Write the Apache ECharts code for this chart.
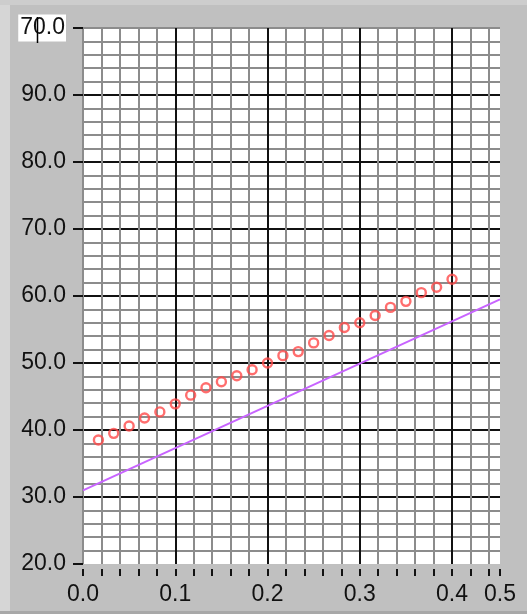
<!DOCTYPE html>
<html>
<head>
<meta charset="utf-8">
<script src="https://cdn.jsdelivr.net/npm/echarts@6/dist/echarts.min.js"></script>
<style>
html,body{margin:0;padding:0;background:#c0c0c0;}
#c{width:527px;height:614px;}
</style>
</head>
<body>
<div id="c"></div>
<script>
// ---- data ----
var pointX = [0.0167,0.0333,0.05,0.0667,0.0833,0.1,0.1167,0.1333,0.15,0.1667,0.1833,0.2,
              0.2167,0.2333,0.25,0.2667,0.2833,0.3,0.3167,0.3333,0.35,0.3667,0.3833,0.4];
var pointY = [38.5,39.5,40.6,41.8,42.7,43.9,45.2,46.3,47.2,48.1,49.0,50.0,
              51.1,51.7,53.0,54.1,55.3,56.0,57.1,58.3,59.2,60.5,61.3,62.5];
var lineX = [0, 0.452];
var lineY = [31.0, 59.5];
var yTickValues = [20,30,40,50,60,70,80,90,100];
var yTickLabels = ['20.0','30.0','40.0','50.0','60.0','70.0','80.0','90.0','70.0'];
var xMin = 0, xMax = 0.452, yMin = 20, yMax = 100;

var scatterData = pointX.map(function(x,i){return [x, pointY[i]];});
var lineData = lineX.map(function(x,i){return [x, lineY[i]];});

var FONT = 'Liberation Sans';
var chart = echarts.init(document.getElementById('c'), null, {renderer:'canvas'});
var option = {
  backgroundColor: '#c0c0c0',
  animation: false,
  grid: {left: 83, right: 27, top: 28, bottom: 50, show: true, backgroundColor: '#ffffff', borderWidth: 0},
  graphic: [
    {type:'rect', shape:{x:0,y:0,width:10,height:614}, style:{fill:'#d6d6d6'}, z:-10},
    {type:'rect', shape:{x:0,y:0,width:527,height:5}, style:{fill:'#cdcdcd'}, z:-10},
    {type:'rect', shape:{x:0,y:611,width:527,height:3}, style:{fill:'#a8a8a8'}, z:-10},
    {type:'line', shape:{x1:37.5,y1:17,x2:37.5,y2:43}, style:{stroke:'#000',lineWidth:1.5}, z:100}
  ],
  xAxis: [
    {
      type:'value', min:xMin, max:xMax, interval:0.02, position:'bottom', offset:5,
      axisLine:{show:false},
      axisTick:{show:true, length:7, lineStyle:{color:'#111', width:2}},
      axisLabel:{show:false},
      splitLine:{show:true, showMinLine:true, showMaxLine:false, lineStyle:{color:'#8c8c8c', width:2}}
    },
    {
      type:'value', min:xMin, max:xMax, interval:0.1, position:'bottom', offset:0,
      axisLine:{show:false}, axisTick:{show:false},
      axisLabel:{show:true, margin:19, color:'#111', fontFamily:FONT, fontSize:23,
        formatter:function(v){return v.toFixed(1);}},
      splitLine:{show:true, showMinLine:false, showMaxLine:false, lineStyle:{color:'#111', width:2}}
    }
  ],
  yAxis: [
    {
      type:'value', min:yMin, max:yMax, interval:2, position:'left',
      axisLine:{show:false}, axisTick:{show:false}, axisLabel:{show:false},
      splitLine:{show:true, showMinLine:false, showMaxLine:true, lineStyle:{color:'#8c8c8c', width:2}}
    },
    {
      type:'value', min:yMin, max:yMax, interval:10, position:'left', offset:4,
      axisLine:{show:false},
      axisTick:{show:true, length:10, lineStyle:{color:'#111', width:2}},
      axisLabel:{show:true, margin:13, color:'#111', fontFamily:FONT, fontSize:23,
        formatter:function(v){
          var i = yTickValues.indexOf(Math.round(v));
          var t = i >= 0 ? yTickLabels[i] : v.toFixed(1);
          return v >= yMax ? '{ed|' + t + '}' : t;
        },
        rich:{ed:{backgroundColor:'#ffffff', padding:[2,1,2,2], fontFamily:FONT, fontSize:23, color:'#111'}}
      },
      splitLine:{show:true, showMinLine:false, showMaxLine:false, lineStyle:{color:'#111', width:2}}
    }
  ],
  series: [
    {
      type:'line', xAxisIndex:1, yAxisIndex:1, data:lineData, showSymbol:false, symbol:'none',
      lineStyle:{color:'#c864ff', width:2}, z:5, silent:true
    },
    {
      type:'scatter', xAxisIndex:1, yAxisIndex:1, data:scatterData, symbol:'circle', symbolSize:9,
      itemStyle:{color:'rgba(255,255,255,0)', borderColor:'#ff4a4a', borderWidth:2.4}, z:6
    }
  ]
};
chart.setOption(option);
</script>
</body>
</html>
